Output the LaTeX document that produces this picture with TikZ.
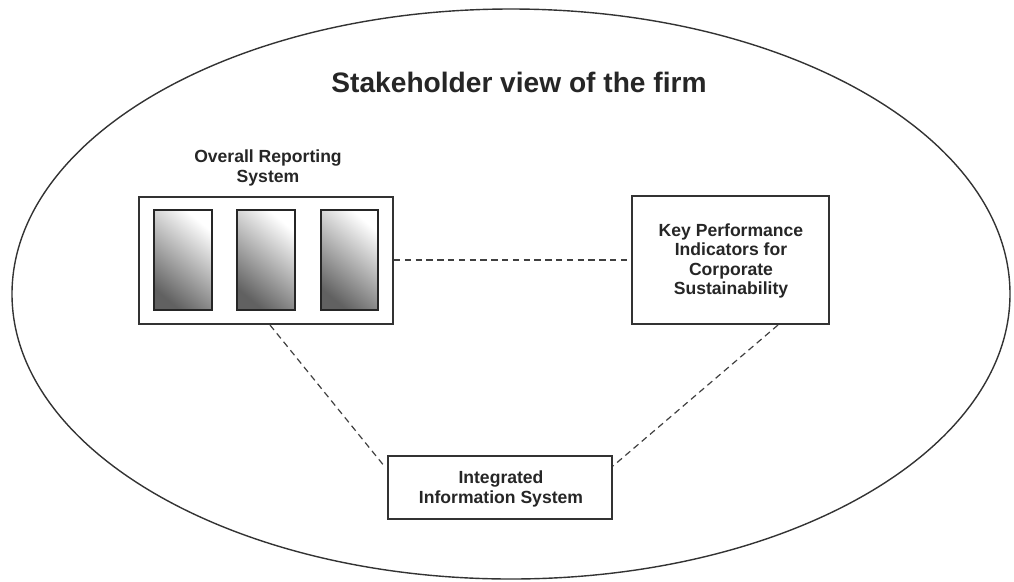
\documentclass[tikz,border=0pt]{standalone}
\usepackage{fontspec}
\setmainfont{Liberation Sans}
\usepackage{tikz}

\tikzset{
  box/.style={draw=black!80, line width=0.5mm, fill=white, inner sep=0pt},
  panel/.style={draw=black!85, line width=0.45mm, shading=axis, top color=white, bottom color=black!62, shading angle=-40},
  link/.style={draw=black!75, line width=0.3mm, dashed, dash pattern=on 1.6mm off 1.1mm},
  lbl/.style={font=\bfseries\fontsize{12.5}{13.6}\selectfont, text=black!85, align=center}
}

\begin{document}
\begin{tikzpicture}[x=0.025cm, y=-0.025cm]
\useasboundingbox (0,0) rectangle (1014,581);
\draw[line width=0.35mm, black!80] (511,294) ellipse (499 and 285);
\node[font=\bfseries\fontsize{20}{22}\selectfont, text=black!85] (title) at (519,82) {Stakeholder view of the firm};
% reporting system
\node[box, minimum width=254*0.025cm, minimum height=127*0.025cm] (ors) at (266,260) {};
\node[lbl] (orslabel) at (268,168) {Overall Reporting\\System};
\shade[panel] (154,210) rectangle (212,310);
\shade[panel] (237,210) rectangle (295,310);
\shade[panel] (321,210) rectangle (378,310);
% kpi
\node[box, minimum width=197*0.025cm, minimum height=128*0.025cm] (kpi) at (730.5,260) {};
\node[lbl] (kpilabel) at (731,261) {Key Performance\\Indicators for\\Corporate\\Sustainability};
% information system
\node[box, minimum width=224*0.025cm, minimum height=63*0.025cm] (iis) at (500,487.5) {};
\node[lbl] (iislabel) at (501,489) {Integrated\\Information System};
\coordinate (a1) at (270,325);
\coordinate (a2) at (385,467);
\coordinate (b1) at (778,325);
\coordinate (b2) at (613,466);
\draw[link] (ors.east) -- (kpi.west);
\draw[link] (a1) -- (a2);
\draw[link] (b1) -- (b2);
\end{tikzpicture}
\end{document}
